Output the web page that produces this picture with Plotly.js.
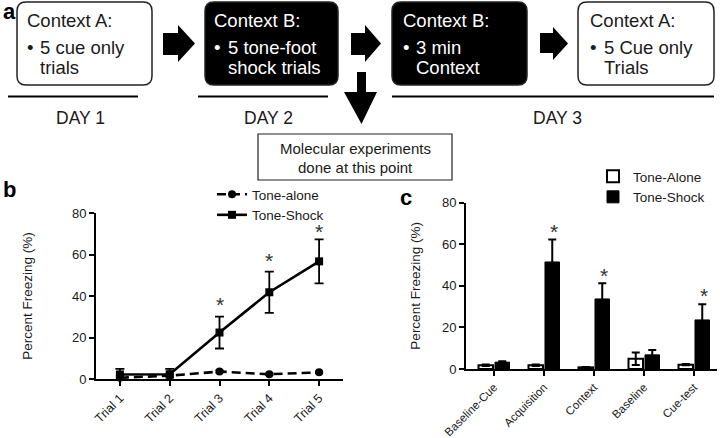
<!DOCTYPE html>
<html>
<head>
<meta charset="utf-8">
<script src="https://cdn.plot.ly/plotly-3.0.1.min.js"></script>
<style>html,body{margin:0;padding:0;background:#fff;}#chart{width:720px;height:438px;}</style>
</head>
<body>
<div id="chart"></div>
<script>
// ---------- data ----------
const trials = ['Trial 1', 'Trial 2', 'Trial 3', 'Trial 4', 'Trial 5'];
const toneAloneB = [0.6, 1.6, 3.6, 2.3, 3.2];
const toneAloneBErr = [0.8, 0.8, 0.6, 0.5, 0.5];
const toneShockB = [2.2, 2.3, 22.4, 41.8, 56.7];
const toneShockBErr = [2.7, 2.6, 7.7, 9.9, 10.6];
const sigTrials = ['Trial 3', 'Trial 4', 'Trial 5'];
const sigTrialsY = [37.8, 58.9, 72.9];

const phases = ['Baseline-Cue', 'Acquisition', 'Context', 'Baseline', 'Cue-test'];
const toneAloneC = [1.8, 1.8, 0.8, 4.9, 2.1];
const toneAloneCErr = [0.4, 0.4, 0.2, 3.0, 0.3];
const toneShockC = [3.3, 51.5, 33.7, 6.8, 23.6];
const toneShockCErr = [0.4, 10.8, 7.6, 2.3, 7.6];
const sigPhases = ['Acquisition', 'Context', 'Cue-test'];
const sigPhasesY = [68.0, 46.8, 37.4];

const yTicks = [0, 20, 40, 60, 80];
const seriesNamesB = ['Tone-alone', 'Tone-Shock'];
const seriesNamesC = ['Tone-Alone', 'Tone-Shock'];

// diagram texts
const boxTitles = ['Context A:', 'Context B:', 'Context B:', 'Context A:'];
const boxLine1 = ['5 cue only', '5 tone-foot', '3 min', '5 Cue only'];
const boxLine2 = ['trials', 'shock trials', 'Context', 'Trials'];
const dayLabels = ['DAY 1', 'DAY 2', 'DAY 3'];
const noteLines = ['Molecular experiments', 'done at this point'];

// ---------- styling / layout helpers ----------
const FONT = 'Liberation Sans, Arial, Helvetica, sans-serif';
const W = 720, H = 438;
const px = v => v / W;
const py = v => 1 - v / H;

function rr(x0, y0, x1, y1, r) {
  return `M${x0 + r},${y0} H${x1 - r} Q${x1},${y0} ${x1},${y0 + r} V${y1 - r} Q${x1},${y1} ${x1 - r},${y1} H${x0 + r} Q${x0},${y1} ${x0},${y1 - r} V${y0 + r} Q${x0},${y0} ${x0 + r},${y0} Z`;
}
function rightArrow(x0, xm, x1, ys0, ys1, yh0, yh1) {
  const yc = (yh0 + yh1) / 2;
  return `M${x0},${ys0} L${xm},${ys0} L${xm},${yh0} L${x1},${yc} L${xm},${yh1} L${xm},${ys1} L${x0},${ys1} Z`;
}

const boxes = [
  {x0: 17, x1: 152, dark: false, tx: 26, ix: 39},
  {x0: 205, x1: 338, dark: true, tx: 213, ix: 227},
  {x0: 392, x1: 527, dark: true, tx: 402, ix: 415},
  {x0: 578, x1: 714, dark: false, tx: 589, ix: 603}
];

const shapes = [];
const annotations = [];
const dref = {xref: 'x3', yref: 'y3'};

boxes.forEach((b, i) => {
  shapes.push(Object.assign({type: 'path', path: rr(b.x0, 2, b.x1, 85, 9),
    fillcolor: b.dark ? '#000' : '#fff', line: {color: '#222', width: 1.5}, layer: 'above'}, dref));
  const col = b.dark ? '#fff' : '#1a1a1a';
  const f = {family: FONT, size: 18.5, color: col};
  annotations.push(Object.assign({x: b.tx - 1, y: 20, text: boxTitles[i], showarrow: false, xanchor: 'left', yanchor: 'middle', font: f}, dref));
  annotations.push(Object.assign({x: b.tx - 1, y: 47, text: '•', showarrow: false, xanchor: 'left', yanchor: 'middle', font: f}, dref));
  annotations.push(Object.assign({x: b.ix - 1, y: 47, text: boxLine1[i], showarrow: false, xanchor: 'left', yanchor: 'middle', font: f}, dref));
  annotations.push(Object.assign({x: b.ix - 1, y: 67, text: boxLine2[i], showarrow: false, xanchor: 'left', yanchor: 'middle', font: f}, dref));
});

// block arrows
[[163, 178, 195, 33, 55, 25, 62], [351, 365, 381, 33, 55, 25, 62], [540, 553, 568, 33, 53, 27, 60]].forEach(a => {
  shapes.push(Object.assign({type: 'path', path: rightArrow(...a), fillcolor: '#000', line: {width: 0}, layer: 'above'}, dref));
});
// down arrow
shapes.push(Object.assign({type: 'path',
  path: 'M357,72 L366,72 L366,92 L377,92 L361.5,124 L344,92 L357,92 Z',
  fillcolor: '#000', line: {width: 0}, layer: 'above'}, dref));

// day lines
[[8, 138], [198, 328], [392, 714]].forEach(l => {
  shapes.push(Object.assign({type: 'line', x0: l[0], x1: l[1], y0: 96.5, y1: 96.5, line: {color: '#000', width: 2.2}, layer: 'above'}, dref));
});
[80, 268, 557].forEach((cx, i) => {
  annotations.push(Object.assign({x: cx, y: 118, text: dayLabels[i], showarrow: false, xanchor: 'center', yanchor: 'middle',
    font: {family: FONT, size: 17.5, color: '#1a1a1a'}}, dref));
});

// note box
shapes.push(Object.assign({type: 'rect', x0: 258, x1: 452, y0: 134, y1: 180, fillcolor: '#fff', line: {color: '#222', width: 1.2}, layer: 'above'}, dref));
annotations.push(Object.assign({x: 355, y: 148, text: noteLines[0], showarrow: false, xanchor: 'center', yanchor: 'middle',
  font: {family: FONT, size: 15, color: '#1a1a1a'}}, dref));
annotations.push(Object.assign({x: 355, y: 167, text: noteLines[1], showarrow: false, xanchor: 'center', yanchor: 'middle',
  font: {family: FONT, size: 15, color: '#1a1a1a'}}, dref));

// panel letters
[['a', 1, 11], ['b', 1, 189], ['c', 398, 197]].forEach(p => {
  annotations.push(Object.assign({x: p[1], y: p[2], text: '<b>' + p[0] + '</b>', showarrow: false, xanchor: 'left', yanchor: 'middle',
    font: {family: FONT, size: 22, color: '#000'}}, dref));
});

// significance asterisks
sigTrials.forEach((t, i) => {
  annotations.push({xref: 'x', yref: 'y', x: t, y: sigTrialsY[i], text: '*', showarrow: false, yanchor: 'middle', yshift: -4,
    font: {family: FONT, size: 21, color: '#333'}});
});
sigPhases.forEach((t, i) => {
  annotations.push({xref: 'x2', yref: 'y2', x: t, y: sigPhasesY[i], text: '*', showarrow: false, yanchor: 'middle', yshift: -4, xshift: 9.5,
    font: {family: FONT, size: 21, color: '#333'}});
});

// ---------- traces ----------
const traces = [
  {type: 'scatter', x: trials, y: toneAloneB, name: seriesNamesB[0], mode: 'lines+markers',
   line: {color: '#000', width: 2.6, dash: '9px,5px'}, marker: {symbol: 'circle', size: 8, color: '#000'},
   error_y: {type: 'data', array: toneAloneBErr, color: '#000', thickness: 1.6, width: 4},
   cliponaxis: false, xaxis: 'x', yaxis: 'y', legend: 'legend'},
  {type: 'scatter', x: trials, y: toneShockB, name: seriesNamesB[1], mode: 'lines+markers',
   line: {color: '#000', width: 2.6}, marker: {symbol: 'square', size: 8, color: '#000'},
   error_y: {type: 'data', array: toneShockBErr, color: '#000', thickness: 1.8, width: 4.5},
   cliponaxis: false, xaxis: 'x', yaxis: 'y', legend: 'legend'},
  {type: 'bar', x: phases, y: toneAloneC, name: seriesNamesC[0],
   marker: {color: '#fff', line: {color: '#000', width: 2}},
   error_y: {type: 'data', array: toneAloneCErr, color: '#000', thickness: 2, width: 4},
   cliponaxis: false, xaxis: 'x2', yaxis: 'y2', legend: 'legend2'},
  {type: 'bar', x: phases, y: toneShockC, name: seriesNamesC[1],
   marker: {color: '#000', line: {color: '#000', width: 1}},
   error_y: {type: 'data', array: toneShockCErr, color: '#000', thickness: 2, width: 4},
   cliponaxis: false, xaxis: 'x2', yaxis: 'y2', legend: 'legend2'},
  {type: 'scatter', x: [], y: [], xaxis: 'x3', yaxis: 'y3', showlegend: false, hoverinfo: 'skip'}
];

const axisCommon = {showline: true, linecolor: '#000', linewidth: 2, ticks: 'outside', ticklen: 5, tickwidth: 2,
  tickcolor: '#000', showgrid: false, zeroline: false, fixedrange: true};

const layout = {
  width: W, height: H,
  margin: {l: 0, r: 0, t: 0, b: 0},
  paper_bgcolor: '#fff', plot_bgcolor: 'rgba(0,0,0,0)',
  font: {family: FONT, color: '#1a1a1a'},
  barmode: 'group', bargap: 0.34, bargroupgap: 0.12,
  xaxis: Object.assign({}, axisCommon, {domain: [px(96), px(343)], anchor: 'y', type: 'category',
    range: [-0.48, 4.48], tickangle: -45, tickfont: {family: FONT, size: 12.5, color: '#1a1a1a'}}),
  yaxis: Object.assign({}, axisCommon, {domain: [py(379), py(213)], anchor: 'x', range: [0, 80], tickvals: yTicks,
    tickfont: {family: FONT, size: 13, color: '#1a1a1a'},
    title: {text: 'Percent Freezing (%)', font: {family: FONT, size: 13.5, color: '#1a1a1a'}, standoff: 36}}),
  xaxis2: Object.assign({}, axisCommon, {domain: [px(466), px(717)], anchor: 'y2', type: 'category',
    range: [-0.56, 4.46], tickangle: -45, tickfont: {family: FONT, size: 11.5, color: '#1a1a1a'}}),
  yaxis2: Object.assign({}, axisCommon, {domain: [py(369), py(202.7)], anchor: 'x2', range: [0, 80], tickvals: yTicks,
    tickfont: {family: FONT, size: 13, color: '#1a1a1a'},
    title: {text: 'Percent Freezing (%)', font: {family: FONT, size: 13.5, color: '#1a1a1a'}, standoff: 18}}),
  xaxis3: {domain: [0, 1], range: [0, W], visible: false, anchor: 'y3', fixedrange: true},
  yaxis3: {domain: [0, 1], range: [H, 0], visible: false, anchor: 'x3', fixedrange: true},
  legend: {x: px(212), y: py(179), xanchor: 'left', yanchor: 'top', bgcolor: 'rgba(0,0,0,0)',
    font: {family: FONT, size: 13.5, color: '#1a1a1a'}, tracegroupgap: 0, itemwidth: 30},
  legend2: {x: px(593), y: py(161), xanchor: 'left', yanchor: 'top', bgcolor: 'rgba(0,0,0,0)',
    font: {family: FONT, size: 13.5, color: '#1a1a1a'}, tracegroupgap: 0, itemwidth: 30, traceorder: 'normal'},
  shapes: shapes,
  annotations: annotations,
  showlegend: true
};

Plotly.newPlot('chart', traces, layout, {displayModeBar: false, staticPlot: true});
</script>
</body>
</html>
